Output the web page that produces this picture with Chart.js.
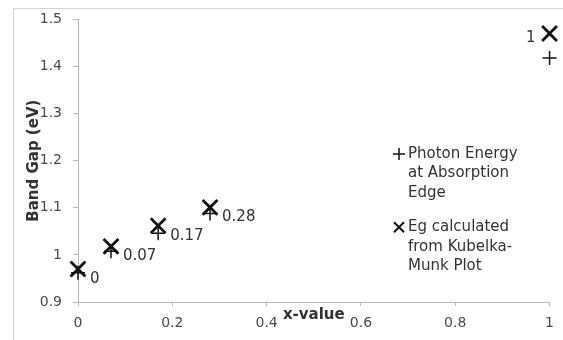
<!DOCTYPE html>
<html>
<head>
<meta charset="utf-8">
<script src="https://cdn.jsdelivr.net/npm/chart.js@4.4.1/dist/chart.umd.min.js"></script>
<style>
  body { margin: 0; background: #fff; }
  #wrap { width: 563px; height: 340px; }
</style>
</head>
<body>
<div id="wrap"><canvas id="bandGap"></canvas></div>
<script>
// x values (composition) and band gaps
var xValues = [0, 0.07, 0.17, 0.28, 1];
var photonEnergy = [0.962, 1.008, 1.046, 1.088, 1.418];
var egKubelka = [0.970, 1.018, 1.062, 1.101, 1.470];
var pointLabels = ["0", "0.07", "0.17", "0.28", "1"];
var legendLines = [["Photon Energy", "at Absorption", "Edge"], ["Eg calculated", "from Kubelka-", "Munk Plot"]];

function toPoints(xs, ys) {
    var pts = [];
    for (var i = 0; i < xs.length; i++) pts.push({x: xs[i], y: ys[i]});
    return pts;
}

var fontName = "'DejaVu Sans', sans-serif";

// light frame round the chart, like the spreadsheet chart border
var framePlugin = {
    id: 'frame',
    beforeDraw: function(chart) {
        var ctx = chart.ctx;
        ctx.save();
        ctx.strokeStyle = '#d4d4d4';
        ctx.lineWidth = 1;
        ctx.beginPath();
        ctx.moveTo(13.5, 340);
        ctx.lineTo(13.5, 8.5);
        ctx.lineTo(563, 8.5);
        ctx.stroke();
        ctx.restore();
    }
};

// x-value labels next to the Eg markers
var labelPlugin = {
    id: 'pointLabels',
    afterDatasetsDraw: function(chart) {
        var ctx = chart.ctx;
        var meta = chart.getDatasetMeta(1);
        ctx.save();
        ctx.font = '15px ' + fontName;
        ctx.fillStyle = '#333';
        ctx.textBaseline = 'middle';
        meta.data.forEach(function(pt, i) {
            if (i == meta.data.length - 1) {
                ctx.textAlign = 'right';
                ctx.fillText(pointLabels[i], pt.x - 14, pt.y + 5);
            } else {
                ctx.textAlign = 'left';
                ctx.fillText(pointLabels[i], pt.x + 12, pt.y + 10);
            }
        });
        ctx.restore();
    }
};

// legend sits inside the plot on the right
var legendPlugin = {
    id: 'insideLegend',
    afterDraw: function(chart) {
        var ctx = chart.ctx;
        var x0 = 399, y0 = 154, lh = 19.6, gap = 34;
        ctx.save();
        ctx.font = '15px ' + fontName;
        ctx.fillStyle = '#333';
        ctx.textAlign = 'left';
        ctx.textBaseline = 'middle';
        ctx.strokeStyle = '#111';
        // plus marker
        ctx.lineWidth = 1.5;
        ctx.beginPath();
        ctx.moveTo(x0 - 6, y0); ctx.lineTo(x0 + 6, y0);
        ctx.moveTo(x0, y0 - 6); ctx.lineTo(x0, y0 + 6);
        ctx.stroke();
        legendLines[0].forEach(function(t, i) {
            ctx.fillText(t, x0 + 9, y0 + i * lh);
        });
        // cross marker
        var y1 = y0 + 2 * lh + gap;
        ctx.lineWidth = 2;
        ctx.beginPath();
        ctx.moveTo(x0 - 5, y1 - 5); ctx.lineTo(x0 + 5, y1 + 5);
        ctx.moveTo(x0 - 5, y1 + 5); ctx.lineTo(x0 + 5, y1 - 5);
        ctx.stroke();
        legendLines[1].forEach(function(t, i) {
            ctx.fillText(t, x0 + 9, y1 + i * lh);
        });
        ctx.restore();
    }
};

new Chart(document.getElementById('bandGap'), {
    type: 'scatter',
    data: {
        datasets: [{
            label: legendLines[0].join(' '),
            data: toPoints(xValues, photonEnergy),
            pointStyle: 'cross',
            pointRadius: 7,
            pointBorderWidth: 1.5,
            borderColor: '#111',
            backgroundColor: '#111',
            clip: false
        }, {
            label: legendLines[1].join(' '),
            data: toPoints(xValues, egKubelka),
            pointStyle: 'crossRot',
            pointRadius: 10.5,
            pointBorderWidth: 2.8,
            borderColor: '#111',
            backgroundColor: '#111',
            clip: false
        }]
    },
    options: {
        responsive: true,
        maintainAspectRatio: false,
        animation: false,
        layout: { padding: { left: 0, right: 7.5, top: 18, bottom: 0 } },
        plugins: {
            legend: { display: false },
            tooltip: { enabled: false }
        },
        scales: {
            x: {
                type: 'linear',
                min: 0,
                max: 1,
                ticks: {
                    stepSize: 0.2,
                    padding: 9,
                    color: '#4a4a4a',
                    font: { family: fontName, size: 14 },
                    callback: function(v) { return String(+v.toFixed(2)); }
                },
                grid: { drawOnChartArea: false, tickLength: 4, color: '#b8b8b8' },
                border: { color: '#b8b8b8' },
                title: {
                    display: true,
                    text: 'x-value',
                    color: '#333',
                    font: { family: fontName, size: 15, weight: 'bold' },
                    padding: { top: 0, bottom: 16 }
                },
                afterFit: function(scale) { scale.height = 38; }
            },
            y: {
                min: 0.9,
                max: 1.5,
                ticks: {
                    stepSize: 0.1,
                    padding: 11,
                    color: '#4a4a4a',
                    font: { family: fontName, size: 14 },
                    callback: function(v) { return String(+v.toFixed(2)); }
                },
                grid: { drawOnChartArea: false, tickLength: 5, color: '#b8b8b8' },
                border: { color: '#b8b8b8' },
                title: {
                    display: true,
                    text: 'Band Gap (eV)',
                    color: '#333',
                    font: { family: fontName, size: 15, weight: 'bold' },
                    padding: { top: 25, bottom: 0 }
                },
                afterFit: function(scale) { scale.width = 78; }
            }
        }
    },
    plugins: [framePlugin, labelPlugin, legendPlugin]
});
</script>
</body>
</html>
